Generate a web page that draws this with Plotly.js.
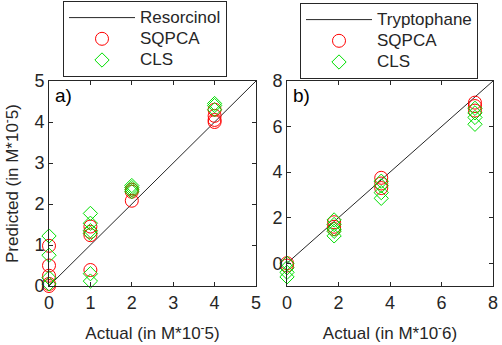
<!DOCTYPE html>
<html>
<head>
<meta charset="utf-8">
<script src="https://cdn.plot.ly/plotly-3.0.1.min.js"></script>
<style>html,body{margin:0;padding:0;background:#fff;}#chart{width:502px;height:345px;}</style>
</head>
<body>
<div id="chart"></div>
<script>
// Panel a) Resorcinol (units M*10^-5)
const resActualSQ = [0,0,0,0,0, 1,1,1,1, 2,2,2, 4,4,4,4];
const resPredSQ   = [0.98,0.5,0.25,0.05,0.0, 1.45,1.32,1.24,0.39, 2.35,2.3,2.08, 4.3,4.15,4.05,4.0];
const resActualCLS = [0,0,0,0,0, 1,1,1,1,1,1, 2,2,2,2, 4,4,4];
const resPredCLS   = [1.22,0.75,0.2,0.05,-0.05, 1.77,1.53,1.35,1.28,0.3,0.12, 2.45,2.4,2.35,2.3, 4.45,4.4,4.3];
const resLine = [0,5];

// Panel b) Tryptophane (units M*10^-6)
const trpActualSQ = [0,0, 1.83,1.83,1.83, 3.66,3.66,3.66, 7.3,7.3,7.3];
const trpPredSQ   = [0.0,-0.1, 1.8,1.6,1.5, 3.75,3.5,3.3, 7.05,6.9,6.7];
const trpActualCLS = [0,0,0,0, 1.83,1.83,1.83,1.83,1.83, 3.66,3.66,3.66,3.66, 7.3,7.3,7.3,7.3];
const trpPredCLS   = [0.0,-0.2,-0.4,-0.6, 1.9,1.7,1.5,1.4,1.2, 3.6,3.4,3.1,2.85, 6.8,6.6,6.4,6.1];
const trpLine = [0,8];

const FONT = 'Liberation Sans, Arial, sans-serif';
const RED = '#ff0000', GREEN = '#00e000', DARK = '#262626';

const circ = {symbol:'circle-open', size:13, color:RED, line:{width:1}};
const diam = {symbol:'diamond-open', size:11, color:GREEN, line:{width:1}};

function lg(t){ return '<span style="font-size:17px">' + t + '</span>'; }

const traces = [
  {x:resLine, y:resLine, mode:'lines', line:{color:DARK, width:1}, name:lg('Resorcinol'), xaxis:'x', yaxis:'y', legend:'legend'},
  {x:resActualSQ, y:resPredSQ, mode:'markers', marker:circ, name:lg('SQPCA'), xaxis:'x', yaxis:'y', legend:'legend', cliponaxis:false},
  {x:resActualCLS, y:resPredCLS, mode:'markers', marker:diam, name:lg('CLS'), xaxis:'x', yaxis:'y', legend:'legend', cliponaxis:false},
  {x:trpLine, y:trpLine, mode:'lines', line:{color:DARK, width:1}, name:lg('Tryptophane'), xaxis:'x2', yaxis:'y2', legend:'legend2'},
  {x:trpActualSQ, y:trpPredSQ, mode:'markers', marker:circ, name:lg('SQPCA'), xaxis:'x2', yaxis:'y2', legend:'legend2', cliponaxis:false},
  {x:trpActualCLS, y:trpPredCLS, mode:'markers', marker:diam, name:lg('CLS'), xaxis:'x2', yaxis:'y2', legend:'legend2', cliponaxis:false}
];

const axBase = {
  showgrid:false, zeroline:false, showline:true, mirror:'ticks', linecolor:DARK, linewidth:1,
  ticks:'inside', ticklen:4, tickcolor:DARK, tickfont:{family:FONT, size:18, color:DARK},
  fixedrange:true, ticklabeloverflow:'allow'
};
const titleFont = {family:FONT, size:17, color:DARK};

const legBase = {
  bgcolor:'#ffffff', bordercolor:DARK, borderwidth:1,
  font:{family:FONT, size:14, color:DARK}, xanchor:'left', yanchor:'top',
  itemwidth:66, tracegroupgap:0, xref:'paper', yref:'paper'
};

const layout = {
  width:502, height:345,
  margin:{l:0, r:0, t:0, b:0},
  paper_bgcolor:'#ffffff', plot_bgcolor:'#ffffff',
  showlegend:true,
  xaxis: Object.assign({}, axBase, {domain:[49/502, 256/502], range:[0,5], tickvals:[0,1,2,3,4,5], anchor:'y',
    title:{text:'Actual (in M*10<sup>-</sup>5)', font:titleFont, standoff:15}}),
  yaxis: Object.assign({}, axBase, {domain:[1-286/345, 1-81/345], range:[0,5], tickvals:[0,1,2,3,4,5], anchor:'x',
    title:{text:'Predicted (in M*10<sup>-</sup>5)', font:titleFont, standoff:14}}),
  xaxis2: Object.assign({}, axBase, {domain:[287/502, 493/502], range:[0,8], tickvals:[0,2,4,6,8], anchor:'y2',
    title:{text:'Actual (in M*10<sup>-</sup>6)', font:titleFont, standoff:15}}),
  yaxis2: Object.assign({}, axBase, {domain:[1-286/345, 1-81/345], range:[-1,8], tickvals:[0,2,4,6,8], anchor:'x2'}),
  legend: Object.assign({}, legBase, {x:63/502, y:1-1/345}),
  legend2: Object.assign({}, legBase, {x:300/502, y:1-3/345}),
  annotations:[
    {text:'a)', x:0.02, y:0.99, xref:'x domain', yref:'y domain', xanchor:'left', yanchor:'top', showarrow:false, font:{family:FONT, size:19, color:'#000'}},
    {text:'b)', x:0.02, y:0.99, xref:'x2 domain', yref:'y2 domain', xanchor:'left', yanchor:'top', showarrow:false, font:{family:FONT, size:19, color:'#000'}}
  ]
};

Plotly.newPlot('chart', traces, layout, {displayModeBar:false, staticPlot:true});
</script>
</body>
</html>
